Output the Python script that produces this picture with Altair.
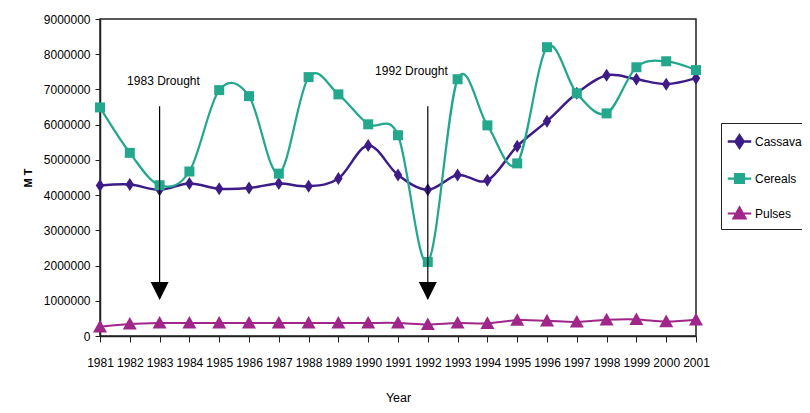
import altair as alt
import pandas as pd

FONT = "Liberation Sans, Arial, sans-serif"

years = list(range(1981, 2002))
series_names = ["Cassava", "Cereals", "Pulses"]
cassava = [4270000, 4300000, 4150000, 4330000, 4180000, 4200000, 4330000, 4250000, 4470000, 5410000, 4570000,
           4150000, 4570000, 4420000, 5390000, 6100000, 6890000, 7400000, 7290000, 7150000, 7320000]
cereals = [6490000, 5200000, 4280000, 4670000, 6980000, 6810000, 4610000, 7350000, 6860000, 6010000, 5700000,
           2100000, 7290000, 5980000, 4900000, 8200000, 6890000, 6320000, 7630000, 7800000, 7550000]
pulses = [260000, 340000, 370000, 370000, 370000, 370000, 370000, 370000, 370000, 370000, 370000,
          330000, 370000, 360000, 450000, 430000, 400000, 460000, 470000, 410000, 460000]

colors = ["#3D1C87", "#23A78D", "#A0268A"]
line_widths = [2.5, 2, 1.8]
marker_paths = ["M0,-1L0.65,0L0,1L-0.65,0Z", "square", "M0,-1L1,0.8L-1,0.8Z"]
marker_sizes = [169, 100, 196]
legend_paths = ["M-1.05,0H1.05M0,-0.55L0.36,0L0,0.55L-0.36,0Z",
                "M-1.05,0H1.05M-0.4,-0.4H0.4V0.4H-0.4Z",
                "M-1.05,0H1.05M0,-0.55L0.55,0.45H-0.55Z"]

# annotations
drought_years = [1983, 1992]
drought_labels = ["1983 Drought", "1992 Drought"]
label_x = [1983.13, 1991.45]
label_y = [7230000, 7520000]
arrow_top = [6520000, 6520000]
arrow_tip = [1050000, 1050000]
arrow_head = [1280000, 1280000]

rows = []
for name, vals in zip(series_names, [cassava, cereals, pulses]):
    for yr, v in zip(years, vals):
        rows.append({"Year": yr, "Series": name, "Value": v})
df = pd.DataFrame(rows)

ann = pd.DataFrame({"Year": drought_years, "Label": drought_labels, "LX": label_x, "LY": label_y,
                    "Top": arrow_top, "Tip": arrow_tip, "Head": arrow_head})

x_scale = alt.Scale(domain=[1981, 2001], nice=False, zero=False)
y_scale = alt.Scale(domain=[0, 9000000], nice=False)
x_axis = alt.Axis(values=years, format="d", title="Year", grid=False, tickSize=6, labelPadding=15,
                  titlePadding=23, titleFontWeight="normal", titleFontSize=12.5, labelFontSize=12,
                  labelFlush=False, labelOverlap=False)
y_axis = alt.Axis(values=list(range(0, 9000001, 1000000)), format="d", title="M T", grid=False,
                  tickSize=5, labelPadding=5, titlePadding=10, titleFontWeight="bold", titleFontSize=11,
                  labelFontSize=12)

def X(field="Year"):
    return alt.X(f"{field}:Q", scale=x_scale, axis=x_axis)

def Y(field="Value"):
    return alt.Y(f"{field}:Q", scale=y_scale, axis=y_axis)

color_scale = alt.Scale(domain=series_names, range=colors)
leg = alt.Legend(title=None, orient="none", legendX=621, legendY=104, strokeColor="#222",
                 padding=6, rowPadding=13, symbolSize=500, symbolStrokeWidth=2, labelFontSize=12,
                 labelFont=FONT, labelOffset=3, fillColor="white", labelColor="black")

lines = alt.Chart(df).mark_line(interpolate="cardinal").encode(
    x=X(), y=Y(),
    color=alt.Color("Series:N", scale=color_scale, legend=leg),
    strokeWidth=alt.StrokeWidth("Series:N", scale=alt.Scale(domain=series_names, range=line_widths), legend=None),
)

points = []
for name, col, path, size in zip(series_names, colors, marker_paths, marker_sizes):
    points.append(
        alt.Chart(df).transform_filter(alt.datum.Series == name)
        .mark_point(filled=True, shape=path, size=size, color=col, opacity=1)
        .encode(x=X(), y=Y())
    )

legend_layer = alt.Chart(df).transform_filter("false").mark_point(filled=True, opacity=1).encode(
    x=X(), y=Y(),
    color=alt.Color("Series:N", scale=color_scale, legend=leg),
    stroke=alt.Stroke("Series:N", scale=color_scale, legend=leg),
    shape=alt.Shape("Series:N", scale=alt.Scale(domain=series_names, range=legend_paths), legend=leg),
)

rules = alt.Chart(ann).mark_rule(color="black", strokeWidth=1.2).encode(x=X(), y=Y("Top"), y2="Tip:Q")
heads = alt.Chart(ann).mark_point(shape="M-1,-1L1,-1L0,1Z", filled=True, color="black", size=324,
                                  opacity=1).encode(x=X(), y=Y("Head"))
texts = alt.Chart(ann).mark_text(font=FONT, fontSize=12, color="black").encode(
    x=alt.X("LX:Q", scale=x_scale, axis=x_axis), y=Y("LY"), text="Label:N")

chart = alt.layer(lines, *points, legend_layer, rules, heads, texts).properties(
    width=596, height=317, autosize="none",
    padding={"left": 92, "top": 11, "right": 106, "bottom": 69},
).configure_view(stroke="#222", strokeWidth=1.5).configure_axis(
    domainColor="#222", domainWidth=1.5, tickColor="#222", labelFont=FONT, titleFont=FONT,
    labelColor="black", titleColor="black"
)

chart.save("out.html", embed_options={"renderer": "svg", "actions": False})
